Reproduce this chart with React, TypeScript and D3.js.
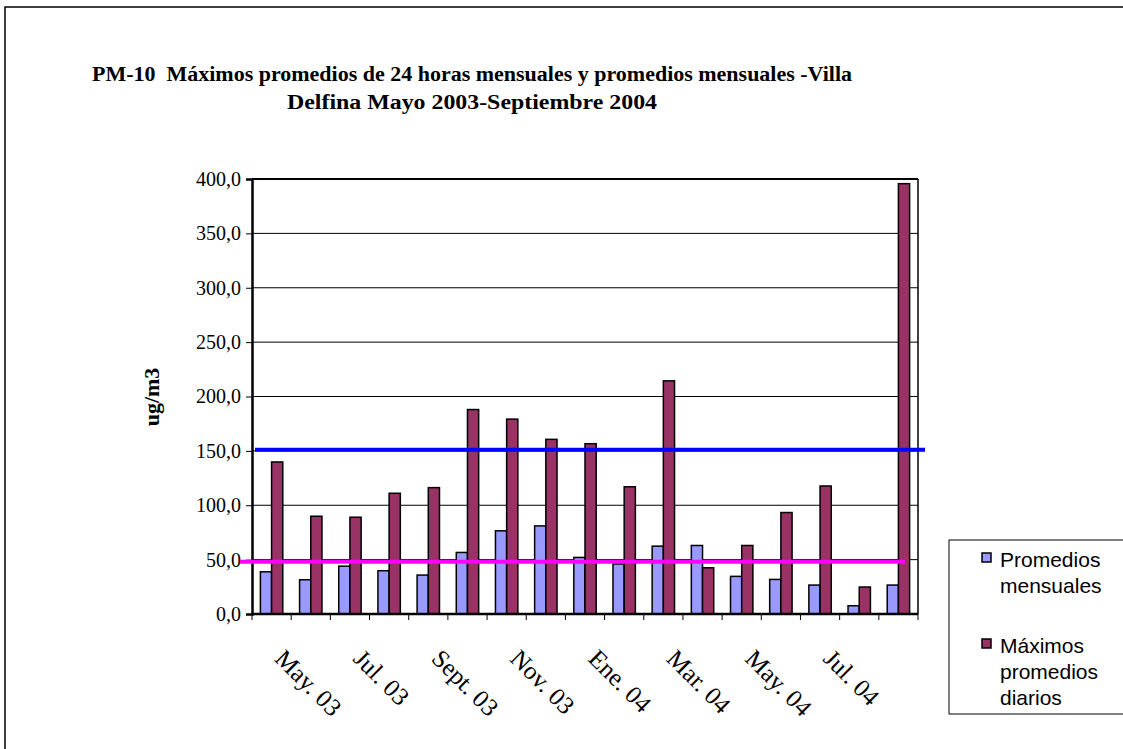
import * as d3 from "d3";
import { useEffect, useRef } from "react";

const months = [
  "May. 03", "Jun. 03", "Jul. 03", "Ago. 03", "Sept. 03", "Oct. 03",
  "Nov. 03", "Dic. 03", "Ene. 04", "Feb. 04", "Mar. 04", "Abr. 04",
  "May. 04", "Jun. 04", "Jul. 04", "Ago. 04", "Sept. 04",
];
const promediosMensuales = [
  38.8, 31.5, 44, 39.8, 35.8, 56.6, 76.5, 81, 52, 46, 62.4, 63, 34.6, 31.8,
  26.6, 7.6, 26.6,
];
const maximosDiarios = [
  139.8, 89.9, 89, 111, 116.2, 188, 179.2, 160.6, 156.6, 117, 214.4, 42.5, 63,
  93.3, 117.7, 24.8, 395.7,
];
const yTicks = [0, 50, 100, 150, 200, 250, 300, 350, 400];
const shownLabels = ["May. 03", "Jul. 03", "Sept. 03", "Nov. 03", "Ene. 04", "Mar. 04", "May. 04", "Jul. 04"];
const limiteDiario = 151;
const limiteAnual = 48;
const legendLines = [["Promedios", "mensuales"], ["Máximos", "promedios", "diarios"]];
const seriesColors = ["#9999FF", "#993366"];

const W = 1123;
const H = 749;
const SERIF = "'Times New Roman', 'Liberation Serif', serif";

export default function App() {
  const ref = useRef<SVGSVGElement>(null);

  useEffect(() => {
    if (!ref.current) return;
    const svg = d3.select(ref.current);
    svg.selectAll("*").remove();

    const left = 252, right = 918, top = 179, bottom = 614;

    svg.append("rect").attr("width", W).attr("height", H).attr("fill", "#fff");
    // outer chart frame
    svg.append("rect")
      .attr("x", 5).attr("y", 7).attr("width", 1140).attr("height", 780)
      .attr("fill", "none").attr("stroke", "#000").attr("stroke-width", 1.5);

    // title
    const title = svg.append("g")
      .attr("font-family", SERIF)
      .attr("font-weight", "bold").attr("font-size", 20);
    title.append("text").attr("x", 92).attr("y", 81)
      .attr("xml:space", "preserve").style("white-space", "pre")
      .attr("textLength", 760).attr("lengthAdjust", "spacingAndGlyphs")
      .text("PM-10  Máximos promedios de 24 horas mensuales y promedios mensuales -Villa");
    title.append("text").attr("x", 287).attr("y", 109)
      .attr("textLength", 370).attr("lengthAdjust", "spacingAndGlyphs")
      .text("Delfina Mayo 2003-Septiembre 2004");

    const x = d3.scaleBand<string>().domain(months).range([left, right]).paddingInner(0.4286).paddingOuter(0.2143);
    const y = d3.scaleLinear().domain([0, 400]).range([bottom, top]);
    const bw = x.bandwidth() / 2;

    // gridlines
    svg.append("g").selectAll("line").data(yTicks.slice(1)).join("line")
      .attr("x1", left).attr("x2", right)
      .attr("y1", (d) => y(d)).attr("y2", (d) => y(d))
      .attr("stroke", "#000").attr("stroke-width", 1);

    // bars
    const series = [promediosMensuales, maximosDiarios];
    series.forEach((vals, si) => {
      svg.append("g").selectAll("rect").data(vals).join("rect")
        .attr("x", (_, i) => (x(months[i]) as number) + si * bw)
        .attr("y", (d) => y(d))
        .attr("width", bw)
        .attr("height", (d) => bottom - y(d))
        .attr("fill", seriesColors[si])
        .attr("stroke", "#000").attr("stroke-width", 1.5);
    });

    // plot frame: top and right
    svg.append("line").attr("x1", left).attr("x2", right).attr("y1", top).attr("y2", top)
      .attr("stroke", "#000").attr("stroke-width", 2);
    svg.append("line").attr("x1", right).attr("x2", right).attr("y1", top).attr("y2", bottom)
      .attr("stroke", "#000").attr("stroke-width", 1.5);

    // y axis
    const yAxis = svg.append("g").attr("transform", `translate(${left},0)`)
      .call(d3.axisLeft(y).tickValues(yTicks).tickSize(6).tickPadding(5)
        .tickFormat((d) => d3.format(".1f")(d as number).replace(".", ",")));
    yAxis.select(".domain").attr("stroke-width", 2.5);
    yAxis.selectAll("text").attr("font-family", SERIF)
      .attr("font-size", 20).attr("fill", "#000");

    // x axis with ticks at band boundaries
    const step = x.step();
    const bounds = d3.range(months.length + 1).map((i) => left + i * step);
    svg.append("line").attr("x1", left).attr("x2", right).attr("y1", bottom).attr("y2", bottom)
      .attr("stroke", "#000").attr("stroke-width", 2.5);
    svg.append("g").selectAll("line").data(bounds).join("line")
      .attr("x1", (d) => d).attr("x2", (d) => d)
      .attr("y1", bottom).attr("y2", bottom + 6)
      .attr("stroke", "#000");
    svg.append("g").selectAll("text").data(shownLabels).join("text")
      .attr("transform", (d) => `translate(${(x(d) as number) + x.bandwidth() / 2 + 2},${bottom + 46}) rotate(45)`)
      .attr("font-family", SERIF)
      .attr("font-size", 25)
      .text((d) => d);

    // y title
    svg.append("text")
      .attr("transform", `translate(159,397) rotate(-90)`)
      .attr("text-anchor", "middle")
      .attr("font-family", SERIF)
      .attr("font-weight", "bold").attr("font-size", 22)
      .text("ug/m3");

    // limit lines
    svg.append("line").attr("x1", 255).attr("x2", 925)
      .attr("y1", y(limiteDiario)).attr("y2", y(limiteDiario))
      .attr("stroke", "#0000FF").attr("stroke-width", 4);
    svg.append("line").attr("x1", 240).attr("x2", 905)
      .attr("y1", y(limiteAnual)).attr("y2", y(limiteAnual))
      .attr("stroke", "#FF00FF").attr("stroke-width", 4);

    // legend
    const lg = svg.append("g").attr("font-family", "Arial, 'Liberation Sans', sans-serif").attr("font-size", 21);
    lg.append("rect").attr("x", 949).attr("y", 540).attr("width", 200).attr("height", 174)
      .attr("fill", "#fff").attr("stroke", "#000").attr("stroke-width", 1);
    const baselines = [567, 653];
    legendLines.forEach((lines, i) => {
      lg.append("rect").attr("x", 982).attr("y", baselines[i] - 14).attr("width", 9).attr("height", 9)
        .attr("fill", seriesColors[i]).attr("stroke", "#000").attr("stroke-width", 1.5);
      lines.forEach((t, j) => {
        lg.append("text").attr("x", 1000).attr("y", baselines[i] + j * 26).text(t);
      });
    });
  }, []);

  return (
    <svg ref={ref} width={W} height={H}
      style={{ position: "absolute", left: 0, top: 0, display: "block" }} />
  );
}
